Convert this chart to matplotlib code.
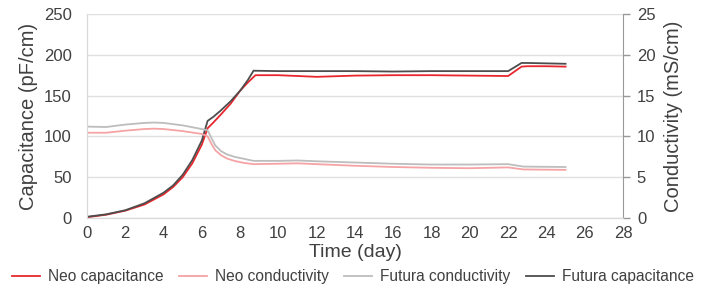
import matplotlib
matplotlib.use("Agg")
import matplotlib.pyplot as plt

plt.rcParams['font.family'] = ['Liberation Sans', 'DejaVu Sans']

# capacitance (pF/cm), left axis
futura_cap_days = [0, 1, 2, 3, 4, 4.5, 5, 5.5, 6, 6.3, 6.6, 7, 7.5, 8, 8.4, 8.7,
                   10, 12, 14, 16, 18, 20, 22, 22.7, 23, 24, 25]
futura_cap = [1.5, 4.5, 9.5, 18, 31, 40, 53, 71, 95, 119, 124, 132, 143, 156, 169, 180.5,
              180, 180, 180, 179.5, 180, 180, 180, 190, 190, 189.5, 189]
neo_cap_days = [0, 1, 2, 3, 4, 4.5, 5, 5.5, 6, 6.3, 6.6, 7, 7.5, 8, 8.4, 8.8,
                10, 12, 14, 16, 18, 20, 22, 22.7, 23, 24, 25]
neo_cap = [1, 4, 9, 16.5, 29, 38, 50, 67, 90, 110, 117, 127, 140, 156, 166, 175,
           175, 173, 174.5, 175, 175, 174.5, 174, 185.5, 186, 186, 185.5]

# conductivity (mS/cm), right axis
cond_days = [0, 1, 2, 3, 3.5, 4, 5, 6, 6.3, 6.5, 6.7, 7.0, 7.3, 7.7, 8.2, 8.7,
             10, 11, 12, 14, 16, 18, 20, 22, 22.8, 25]
futura_cond = [11.2, 11.15, 11.45, 11.65, 11.7, 11.65, 11.35, 10.9, 10.75, 9.8, 8.9, 8.2,
               7.8, 7.5, 7.25, 7.0, 7.0, 7.05, 6.95, 6.8, 6.65, 6.55, 6.55, 6.6, 6.3, 6.25]
neo_cond = [10.45, 10.45, 10.7, 10.9, 10.95, 10.9, 10.65, 10.3, 10.0, 9.1, 8.3, 7.7,
            7.3, 7.0, 6.75, 6.6, 6.65, 6.7, 6.6, 6.4, 6.25, 6.15, 6.1, 6.2, 5.95, 5.9]

x_ticks = list(range(0, 29, 2))
cap_ticks = [0, 50, 100, 150, 200, 250]
cond_ticks = [0, 5, 10, 15, 20, 25]

text_color = '#404040'

fig = plt.figure(figsize=(7.06, 2.84), dpi=100)
ax = fig.add_axes([87 / 706, 1 - 218 / 284, (623 - 87) / 706, (218 - 14) / 284])
ax2 = ax.twinx()

l_neo_cap, = ax.plot(neo_cap_days, neo_cap, color='#e8262d', lw=1.3, zorder=4)
l_fut_cap, = ax.plot(futura_cap_days, futura_cap, color='#4d4d4d', lw=1.3, zorder=5)
l_neo_cond, = ax2.plot(cond_days, neo_cond, color='#f5a3a5', lw=1.3)
l_fut_cond, = ax2.plot(cond_days, futura_cond, color='#bdbdbd', lw=1.3)

ax.set_xlim(0, 28)
ax.set_ylim(0, 250)
ax2.set_ylim(0, 25)
ax.set_xticks(x_ticks)
ax.set_yticks(cap_ticks)
ax2.set_yticks(cond_ticks)

ax.grid(axis='y', color='#e0e0e0', lw=1)
ax.set_axisbelow(True)
for a in (ax, ax2):
    a.spines['top'].set_visible(False)
    a.spines['left'].set_color('#d9d9d9')
    a.spines['bottom'].set_color('#d9d9d9')
    a.spines['right'].set_visible(False)
ax2.spines['right'].set_visible(True)
ax2.spines['right'].set_color('#999999')

ax.tick_params(axis='x', length=0, pad=6, labelsize=12, labelcolor=text_color)
ax.tick_params(axis='y', length=0, pad=11, labelsize=12, labelcolor=text_color)
ax2.tick_params(axis='y', length=5, width=1, color='#999999', pad=5,
                labelsize=12, labelcolor=text_color)

ax.set_xlabel('Time (day)', fontsize=14, color=text_color, labelpad=2)
ax.set_ylabel('Capacitance (pF/cm)', fontsize=14.5, color=text_color, labelpad=4)
ax2.set_ylabel('Conductivity (mS/cm)', fontsize=14.5, color=text_color, labelpad=6)

leg = fig.legend([l_neo_cap, l_neo_cond, l_fut_cond, l_fut_cap],
                 ['Neo capacitance', 'Neo conductivity', 'Futura conductivity', 'Futura capacitance'],
                 loc='center', bbox_to_anchor=(0.5, 0.025), ncol=4, frameon=False,
                 fontsize=11.2, handlelength=1.8, handletextpad=0.5, columnspacing=1.0,
                 borderaxespad=0)
for t in leg.get_texts():
    t.set_color(text_color)

fig.savefig('out.png', dpi=100)
